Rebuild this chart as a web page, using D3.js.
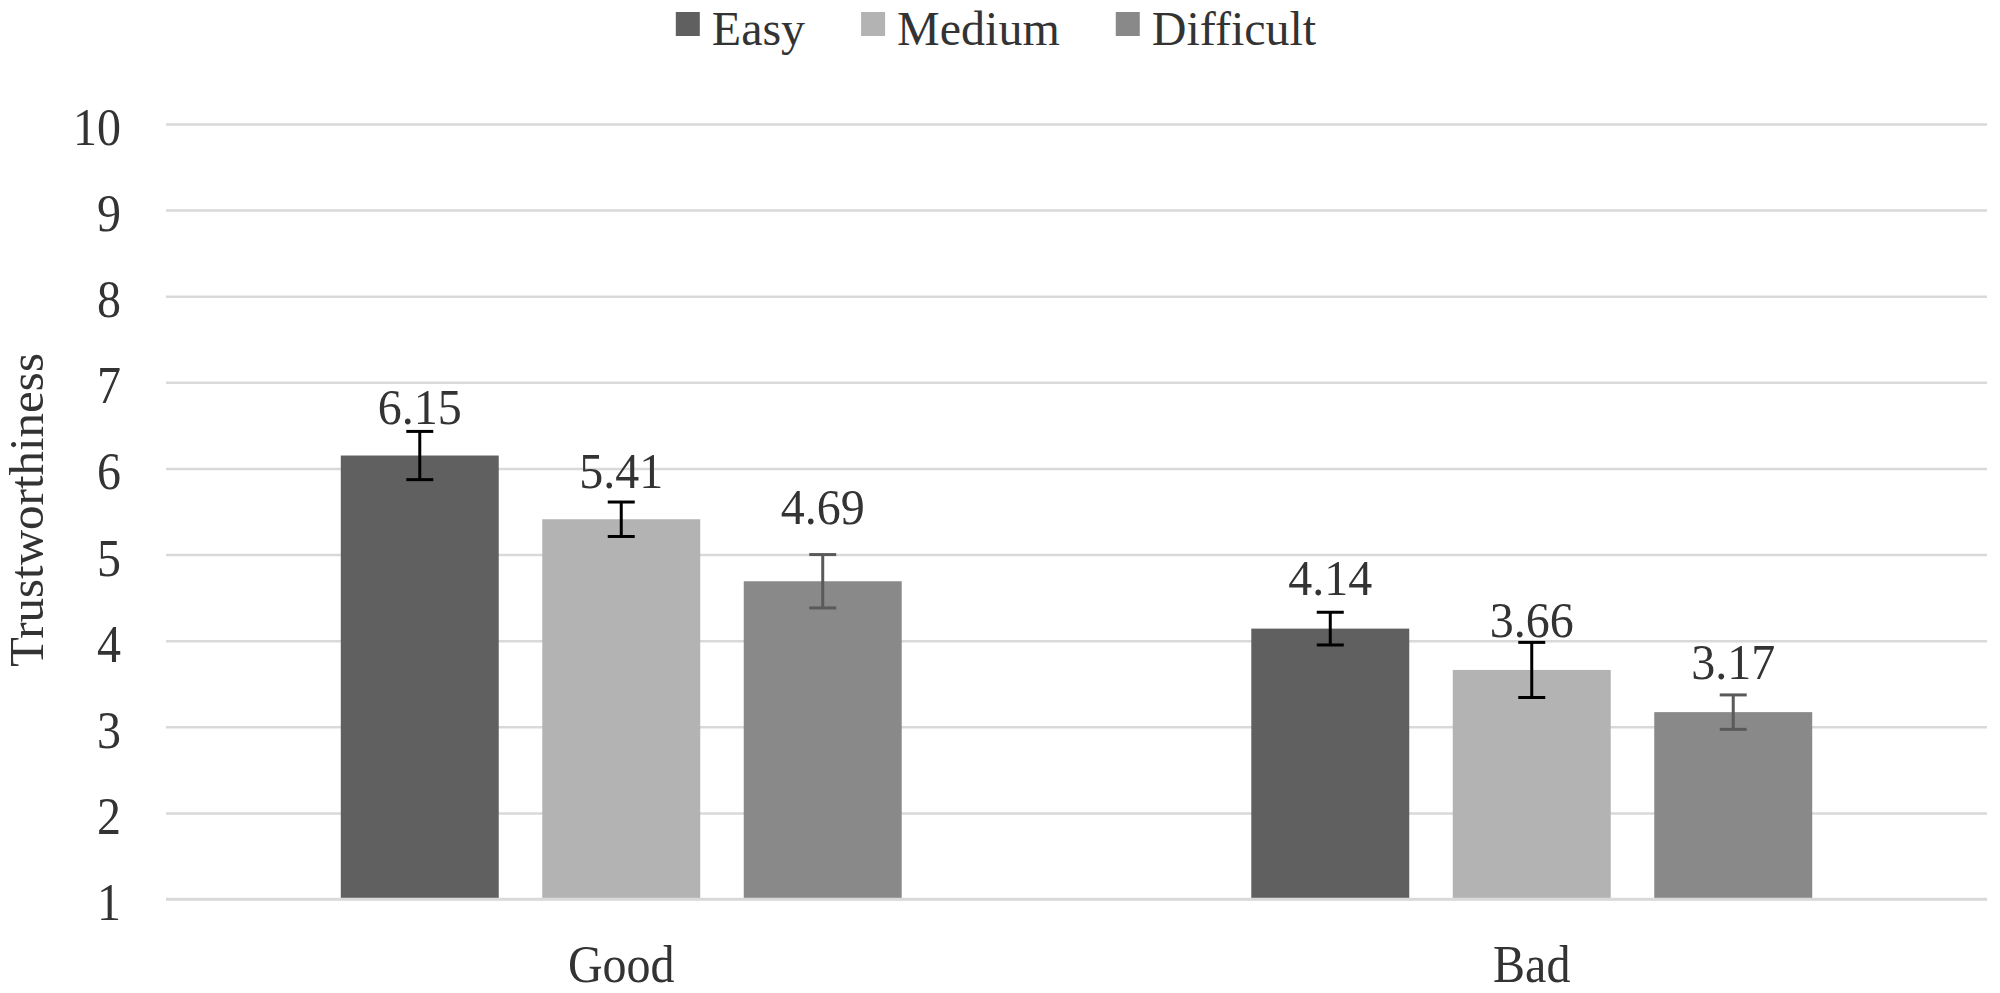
<!DOCTYPE html>
<html>
<head>
<meta charset="utf-8">
<script src="https://cdn.jsdelivr.net/npm/d3@7"></script>
<style>
  html, body { margin: 0; padding: 0; background: #ffffff; }
  svg { display: block; }
  text { font-family: "Liberation Serif", "Times New Roman", serif; fill: #333333; }
</style>
</head>
<body>
<svg id="chart" width="2000" height="993"></svg>
<script>
// ---- data ----
const groups = ["Good", "Bad"];
const series = ["Easy", "Medium", "Difficult"];
const goodValues = [6.15, 5.41, 4.69];
const badValues = [4.14, 3.66, 3.17];
const goodErrors = [0.28, 0.20, 0.31];
const badErrors = [0.19, 0.32, 0.20];
const yTicks = [1, 2, 3, 4, 5, 6, 7, 8, 9, 10];
const yTitle = "Trustworthiness";

// ---- table built from arrays ----
const valuesByGroup = { Good: goodValues, Bad: badValues };
const errorsByGroup = { Good: goodErrors, Bad: badErrors };
const rows = [];
groups.forEach(g => series.forEach((s, i) => rows.push({
  group: g, series: s, value: valuesByGroup[g][i], err: errorsByGroup[g][i]
})));

// ---- styles ----
const barColors = { Easy: "#606060", Medium: "#b3b3b3", Difficult: "#898989" };
const errColors = { Easy: "#000000", Medium: "#000000", Difficult: "#5a5a5a" };
// distance (px) from bar top to label baseline
const labelLift = { "Good-Easy": 32, "Good-Medium": 31, "Good-Difficult": 57,
                    "Bad-Easy": 34, "Bad-Medium": 33, "Bad-Difficult": 33 };

const svg = d3.select("#chart");
const plot = { left: 166, right: 1987, top: 124, bottom: 899 };

const y = d3.scaleLinear().domain([1, 10]).range([plot.bottom, plot.top]);
const x0 = d3.scaleBand().domain(groups).range([plot.left, plot.right]).padding(0);
const x1 = d3.scaleBand().domain(series).range([0, x0.bandwidth()])
  .paddingInner(0.216).paddingOuter(0.8675);

// helper: stretched text
function stext(sel, x, yy, sy) {
  return sel.attr("transform", `translate(${x},${yy}) scale(1,${sy})`);
}

// gridlines (incl. baseline)
const yAxis = d3.axisLeft(y).tickValues(yTicks)
  .tickSize(-(plot.right - plot.left)).tickFormat("");
const gridG = svg.append("g").attr("transform", `translate(${plot.left},0)`).call(yAxis);
gridG.select(".domain").remove();
gridG.selectAll(".tick line").attr("stroke", "#d9d9d9").attr("stroke-width", 2.5);

// y tick labels
svg.append("g").selectAll("text").data(yTicks).join("text")
  .each(function(d) { stext(d3.select(this), 121, y(d) + 21, 1.08); })
  .attr("text-anchor", "end")
  .attr("font-size", 48)
  .text(d => d);

// bars
svg.append("g").selectAll("rect").data(rows).join("rect")
  .attr("x", d => x0(d.group) + x1(d.series))
  .attr("y", d => y(d.value))
  .attr("width", x1.bandwidth())
  .attr("height", d => y(1) - y(d.value))
  .attr("fill", d => barColors[d.series]);

// baseline redraw over bars
svg.append("line")
  .attr("x1", plot.left).attr("x2", plot.right)
  .attr("y1", y(1)).attr("y2", y(1))
  .attr("stroke", "#d9d9d9").attr("stroke-width", 2.5);

// error bars
const capW = 27;
const eg = svg.append("g").selectAll("g").data(rows).join("g")
  .attr("stroke", d => errColors[d.series]).attr("stroke-width", 3);
eg.append("line")
  .attr("x1", d => x0(d.group) + x1(d.series) + x1.bandwidth() / 2)
  .attr("x2", d => x0(d.group) + x1(d.series) + x1.bandwidth() / 2)
  .attr("y1", d => y(d.value + d.err)).attr("y2", d => y(d.value - d.err));
eg.append("line")
  .attr("x1", d => x0(d.group) + x1(d.series) + x1.bandwidth() / 2 - capW / 2)
  .attr("x2", d => x0(d.group) + x1(d.series) + x1.bandwidth() / 2 + capW / 2)
  .attr("y1", d => y(d.value + d.err)).attr("y2", d => y(d.value + d.err));
eg.append("line")
  .attr("x1", d => x0(d.group) + x1(d.series) + x1.bandwidth() / 2 - capW / 2)
  .attr("x2", d => x0(d.group) + x1(d.series) + x1.bandwidth() / 2 + capW / 2)
  .attr("y1", d => y(d.value - d.err)).attr("y2", d => y(d.value - d.err));

// data labels
svg.append("g").selectAll("text").data(rows).join("text")
  .each(function(d) {
    stext(d3.select(this), x0(d.group) + x1(d.series) + x1.bandwidth() / 2,
      y(d.value) - labelLift[d.group + "-" + d.series], 1.04);
  })
  .attr("text-anchor", "middle")
  .attr("font-size", 48)
  .text(d => d3.format(".2f")(d.value));

// x category labels
svg.append("g").selectAll("text").data(groups).join("text")
  .each(function(d) { stext(d3.select(this), x0(d) + x0.bandwidth() / 2, 982, 1.08); })
  .attr("text-anchor", "middle")
  .attr("font-size", 48)
  .text(d => d);

// y title
svg.append("text")
  .attr("transform", `translate(43,510) rotate(-90)`)
  .attr("text-anchor", "middle")
  .attr("font-size", 49)
  .text(yTitle);

// legend
const legend = svg.append("g");
const items = legend.selectAll("g").data(series).join("g");
items.append("rect").attr("x", 0).attr("y", 12).attr("width", 24).attr("height", 24)
  .attr("fill", d => barColors[d]);
items.append("text").attr("x", 36).attr("y", 45).attr("font-size", 48).text(d => d);
let cx = 0;
const widths = [];
items.each(function() {
  const w = 36 + d3.select(this).select("text").node().getComputedTextLength();
  widths.push(w);
});
const gap = 56;
const total = d3.sum(widths) + gap * (widths.length - 1);
cx = 996 - total / 2;
items.each(function(d, i) {
  d3.select(this).attr("transform", `translate(${cx},0)`);
  cx += widths[i] + gap;
});
</script>
</body>
</html>
